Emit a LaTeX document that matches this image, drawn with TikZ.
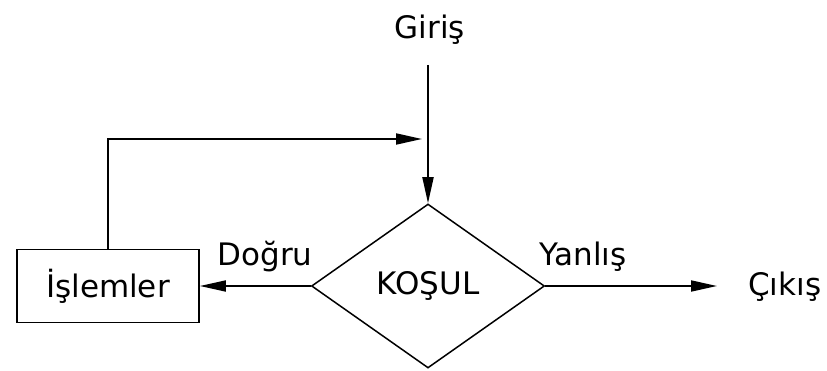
\documentclass[tikz,border=0pt]{standalone}
\usepackage{fontspec}
\setmainfont{DejaVu Sans}
\usetikzlibrary{shapes.geometric,arrows.meta}
\begin{document}
\begin{tikzpicture}[x=1pt,y=-1pt,
  lbl/.style={font=\fontsize{31}{36}\selectfont, inner sep=0pt},
  flow/.style={draw=black, line width=1.8pt, -{Triangle[length=26pt,width=11pt]}},
  decision/.style={diamond, draw=black, line width=1.5pt, minimum width=233pt,
    minimum height=164pt, inner sep=0pt, font=\fontsize{31}{36}\selectfont},
  procbox/.style={rectangle, draw=black, line width=1.8pt, minimum width=182pt,
    minimum height=73pt, inner sep=0pt, font=\fontsize{31}{36}\selectfont}]
  \useasboundingbox (0,0) rectangle (827,371);

  % nodes
  \node[lbl] (giris) at (430,30) {Giriş};
  \node[decision] (cond) at (428,286) {KOŞUL};
  \node[procbox] (proc) at (108,286) {İşlemler};
  \node[lbl, anchor=west] (cikis) at (748,287) {Çıkış};
  \node[lbl] (dogru) at (265,257) {Doğru};
  \node[lbl] (yanlis) at (583,257) {Yanlış};

  % free ends of connectors
  \coordinate (in) at (428,65);
  \coordinate (back) at (422,139);
  \coordinate (out) at (717,286);

  % connectors
  \draw[flow] (in) -- (cond.north);
  \draw[flow] (proc.north) |- (back);
  \draw[flow] (cond.west) -- (proc.east);
  \draw[flow] (cond.east) -- (out);
\end{tikzpicture}
\end{document}
